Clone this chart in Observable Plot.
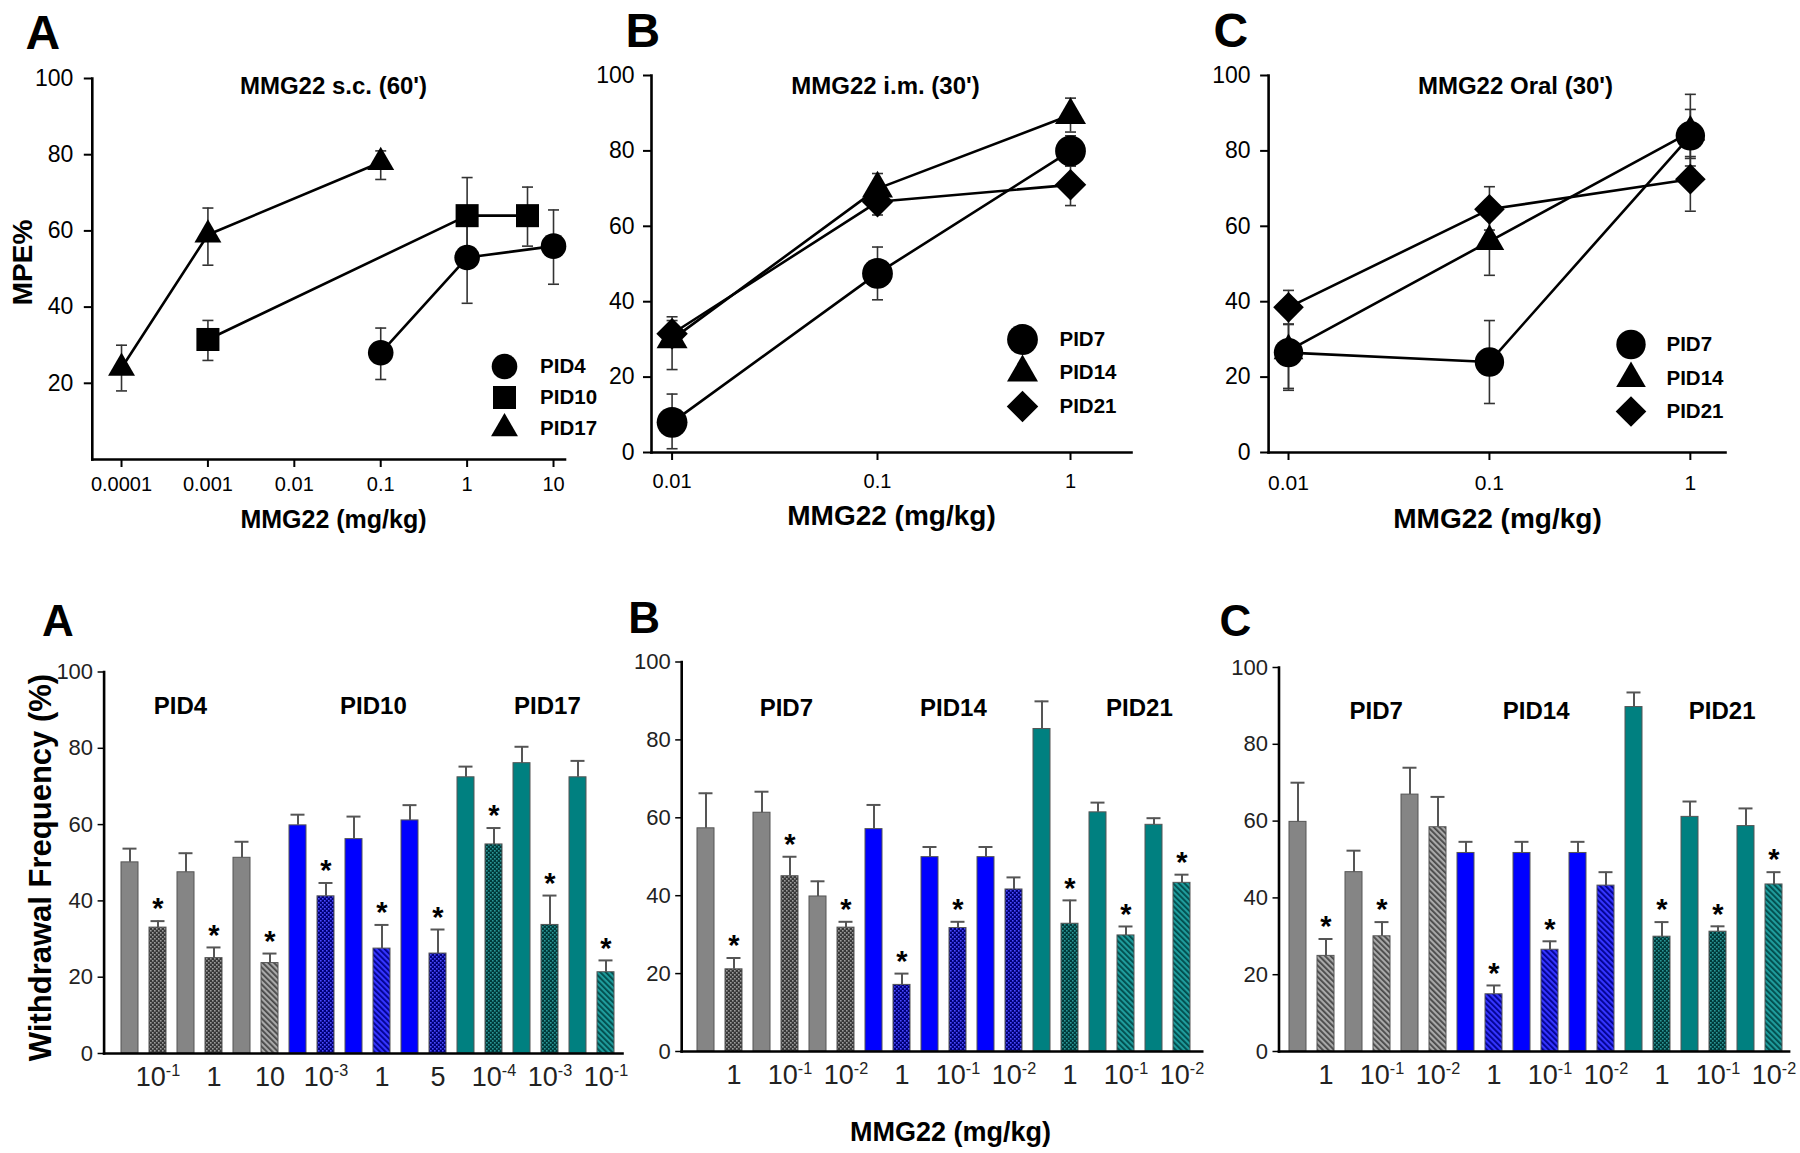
<!DOCTYPE html>
<html><head><meta charset="utf-8">
<script src="https://cdn.jsdelivr.net/npm/d3@7"></script>
<script src="https://cdn.jsdelivr.net/npm/@observablehq/plot@0.6"></script>
<style>
html,body{margin:0;padding:0;background:#fff;}
#chart{position:relative;width:1800px;height:1153px;overflow:hidden;background:#fff;}
</style></head><body>
<svg width="0" height="0" style="position:absolute;left:0;top:0">
<defs>
 <pattern id="grey-cross" width="4" height="4" patternUnits="userSpaceOnUse">
  <rect width="4" height="4" fill="#383838"/>
  <rect x="0" y="0" width="1.6" height="1.6" fill="#9c9c9c"/>
  <rect x="2" y="2" width="1.6" height="1.6" fill="#9c9c9c"/>
 </pattern>
 <pattern id="grey-diag" width="4" height="4" patternUnits="userSpaceOnUse" patternTransform="rotate(-45)">
  <rect width="4" height="4" fill="#a9a9a9"/>
  <rect width="1.8" height="4" fill="#474747"/>
 </pattern>
 <pattern id="blue-cross" width="4" height="4" patternUnits="userSpaceOnUse">
  <rect width="4" height="4" fill="#000078"/>
  <rect x="0" y="0" width="1.6" height="1.6" fill="#4a4aff"/>
  <rect x="2" y="2" width="1.6" height="1.6" fill="#4a4aff"/>
 </pattern>
 <pattern id="blue-diag" width="4" height="4" patternUnits="userSpaceOnUse" patternTransform="rotate(-45)">
  <rect width="4" height="4" fill="#3535ff"/>
  <rect width="1.8" height="4" fill="#00008c"/>
 </pattern>
 <pattern id="teal-cross" width="4" height="4" patternUnits="userSpaceOnUse">
  <rect width="4" height="4" fill="#003a3a"/>
  <rect x="0" y="0" width="1.6" height="1.6" fill="#2a9696"/>
  <rect x="2" y="2" width="1.6" height="1.6" fill="#2a9696"/>
 </pattern>
 <pattern id="teal-diag" width="4" height="4" patternUnits="userSpaceOnUse" patternTransform="rotate(-45)">
  <rect width="4" height="4" fill="#1f9c9c"/>
  <rect width="1.8" height="4" fill="#004a4a"/>
 </pattern>
</defs>
</svg>
<div id="chart"></div>
<script>
// ---------------- DATA ----------------
// Top row: MPE% vs dose (log scale)
const topA_series = ["PID4", "PID10", "PID17"];
const topA_doses  = [[0.1, 1, 10], [0.001, 1, 5], [0.0001, 0.001, 0.1]];
const topA_mpe    = [[28, 53, 56], [31.5, 64, 64], [24, 59, 78]];
const topA_low    = [[21, 41, 46], [26, 54.5, 56], [18, 51, 73.5]];
const topA_high   = [[34.5, 65, 65.5], [36.5, 74, 71.5], [30, 66, 81]];

const topB_series = ["PID7", "PID14", "PID21"];
const topB_doses  = [[0.01, 0.1, 1], [0.01, 0.1, 1], [0.01, 0.1, 1]];
const topB_mpe    = [[8, 47.5, 80], [30, 70, 89.5], [31.5, 66.5, 71]];
const topB_low    = [[1, 40.5, 76], [22, 66, 85], [28, 63, 65.5]];
const topB_high   = [[15.5, 54.5, 84], [36, 74, 94], [35, 70, 76]];

const topC_series = ["PID7", "PID14", "PID21"];
const topC_doses  = [[0.01, 0.1, 1], [0.01, 0.1, 1], [0.01, 0.1, 1]];
const topC_mpe    = [[26.5, 24, 84], [27, 56, 85], [38.5, 64.5, 72.5]];
const topC_low    = [[17, 13, 78], [16.5, 47, 76], [34, 59, 64]];
const topC_high   = [[34, 35, 91], [34, 65, 95], [43, 70.5, 78.5]];

const topA_ticks = [0.0001, 0.001, 0.01, 0.1, 1, 10];
const topBC_ticks = [0.01, 0.1, 1];

// Bottom row: withdrawal frequency bars (baseline / treated pairs)
const botA_groups = ["PID4", "PID10", "PID17"];
const botA_mean = [50.1, 33, 47.5, 25, 51.3, 23.7, 59.8, 41.2, 56.2, 27.5, 61.1, 26.2, 72.4, 54.8, 76.1, 33.7, 72.4, 21.3];
const botA_err  = [53.7, 34.7, 52.5, 27.8, 55.5, 26.2, 62.6, 44.7, 62.1, 33.7, 65.1, 32.5, 75.2, 59.1, 80.4, 41.4, 76.7, 24.4];
const botA_star = [0, 1, 0, 1, 0, 1, 0, 1, 0, 1, 0, 1, 0, 1, 0, 1, 0, 1];
const botA_dose = ["", "10^-1", "", "1", "", "10", "", "10^-3", "", "1", "", "5", "", "10^-4", "", "10^-3", "", "10^-1"];
const botA_kind = ["base", "cross", "base", "cross", "base", "diag", "base", "cross", "base", "diag", "base", "cross", "base", "cross", "base", "cross", "base", "diag"];

const botB_groups = ["PID7", "PID14", "PID21"];
const botB_mean = [57.3, 21.1, 61.3, 45, 39.8, 31.8, 57.1, 17.1, 49.9, 31.7, 49.9, 41.6, 82.8, 32.8, 61.4, 29.8, 58.2, 43.3];
const botB_err  = [66.3, 24, 66.7, 50, 43.7, 33.3, 63.3, 20, 52.5, 33.3, 52.5, 44.7, 89.9, 38.8, 63.9, 32.1, 59.9, 45.4];
const botB_star = [0, 1, 0, 1, 0, 1, 0, 1, 0, 1, 0, 0, 0, 1, 0, 1, 0, 1];
const botB_dose = ["", "1", "", "10^-1", "", "10^-2", "", "1", "", "10^-1", "", "10^-2", "", "1", "", "10^-1", "", "10^-2"];
const botB_kind = ["base", "cross", "base", "cross", "base", "cross", "base", "cross", "base", "cross", "base", "cross", "base", "cross", "base", "diag", "base", "diag"];

const botC_groups = ["PID7", "PID14", "PID21"];
const botC_mean = [59.8, 24.9, 46.7, 30, 66.9, 58.4, 51.7, 14.9, 51.7, 26.5, 51.7, 43.2, 89.7, 29.9, 61.1, 31.2, 58.7, 43.5];
const botC_err  = [70, 29.3, 52.3, 33.7, 73.9, 66.3, 54.6, 17.2, 54.6, 28.7, 54.6, 46.7, 93.5, 33.7, 65.1, 32.6, 63.3, 46.7];
const botC_star = [0, 1, 0, 1, 0, 0, 0, 1, 0, 1, 0, 0, 0, 1, 0, 1, 0, 1];
const botC_dose = ["", "1", "", "10^-1", "", "10^-2", "", "1", "", "10^-1", "", "10^-2", "", "1", "", "10^-1", "", "10^-2"];
const botC_kind = ["base", "diag", "base", "diag", "base", "diag", "base", "diag", "base", "diag", "base", "diag", "base", "cross", "base", "cross", "base", "diag"];

// ---------------- STYLE / LAYOUT ----------------
const W = 1800, H = 1153;
const FONT = "'Liberation Sans', Arial, Helvetica, sans-serif";
const symbolOf = {PID4: "circle", PID10: "square", PID17: "triangle", PID7: "circle", PID14: "triangle", PID21: "diamond2"};
const hues = ["grey", "blue", "teal"];
const solidOf = {grey: "#858585", blue: "#0000ff", teal: "#008080"};
const capSymbol = {draw(context, size) { const w = Math.sqrt(size / Math.PI); context.moveTo(-w, 0); context.lineTo(w, 0); }};

const chart = document.getElementById("chart");

function at(f, px, py) { return {frameAnchor: "top-left", dx: px - f.L, dy: py - f.T}; }
function label(f, txt, px, py, o) {
  return Plot.text([txt], {...at(f, px, py), text: d => d, fontWeight: "bold", textAnchor: "middle", lineAnchor: "middle", ...o});
}
function mount(svg) {
  svg.style.position = "absolute"; svg.style.left = "0"; svg.style.top = "0";
  svg.style.background = "transparent"; svg.style.overflow = "visible";
  svg.setAttribute("font-family", FONT); svg.style.fontFamily = FONT;
  chart.appendChild(svg);
}

function linePanel(cfg) {
  const f = cfg.frame;
  const rows = [];
  cfg.series.forEach((s, k) => cfg.doses[k].forEach((x, j) =>
    rows.push({series: s, dose: x, mpe: cfg.mpe[k][j], lo: cfg.low[k][j], hi: cfg.high[k][j]})));
  const marks = [
    Plot.axisY({ticks: cfg.yTicks, tickFormat: d => String(d), tickSize: 8, tickPadding: cfg.yPad, fontSize: 23, strokeWidth: 2, label: null}),
    Plot.axisX({ticks: cfg.xTicks, tickFormat: d => String(d), tickSize: 8, tickPadding: cfg.xPad, fontSize: cfg.xFont, strokeWidth: 2, label: null}),
    Plot.frame({anchor: "left", stroke: "#000", strokeWidth: 2.6}),
    Plot.frame({anchor: "bottom", stroke: "#000", strokeWidth: 2.6}),
    Plot.ruleX(rows, {x: "dose", y1: "lo", y2: "hi", stroke: "#333", strokeWidth: 1.6}),
    Plot.dot(rows, {x: "dose", y: "lo", symbol: capSymbol, r: 5.5, stroke: "#333", strokeWidth: 1.6, fill: "none"}),
    Plot.dot(rows, {x: "dose", y: "hi", symbol: capSymbol, r: 5.5, stroke: "#333", strokeWidth: 1.6, fill: "none"}),
    Plot.line(rows, {x: "dose", y: "mpe", z: "series", stroke: "#000", strokeWidth: 2.6}),
    ...cfg.series.map(s => Plot.dot(rows.filter(d => d.series === s), {x: "dose", y: "mpe", symbol: symbolOf[s], r: cfg.r[symbolOf[s]], fill: "#000", stroke: "none"})),
    ...cfg.series.map((s, k) => Plot.dot([s], {...at(f, cfg.legend.mx, cfg.legend.rows[k]), symbol: symbolOf[s], r: cfg.r[symbolOf[s]], fill: "#000", stroke: "none"})),
    ...cfg.series.map((s, k) => Plot.text([s], {...at(f, cfg.legend.lx, cfg.legend.rows[k]), text: d => d, textAnchor: "start", lineAnchor: "middle", fontSize: 20.5, fontWeight: "bold"})),
    label(f, cfg.title, cfg.titlePos[0], cfg.titlePos[1], {fontSize: 24}),
    label(f, "MMG22 (mg/kg)", cfg.xLabelPos[0], cfg.xLabelPos[1], {fontSize: cfg.xLabelFont}),
    label(f, cfg.letter, cfg.letterPos[0], cfg.letterPos[1], {fontSize: 48, textAnchor: "start", lineAnchor: "top"})
  ];
  if (cfg.yLabel) marks.push(label(f, cfg.yLabel, cfg.yLabelPos[0], cfg.yLabelPos[1], {fontSize: 28, rotate: -90}));
  const xScale = {type: "log", domain: cfg.xDomain, label: null};
  if (cfg.xRange) xScale.range = cfg.xRange;
  const svg = Plot.plot({
    width: W, height: H,
    marginLeft: f.L, marginRight: W - f.R, marginTop: f.T, marginBottom: H - f.B,
    x: xScale,
    y: {domain: [0, 100], label: null},
    marks
  });
  mount(svg);
}

function barPanel(cfg) {
  const f = cfg.frame;
  const rows = cfg.mean.map((m, i) => ({
    i, mean: m, err: cfg.err[i], star: cfg.star[i], kind: cfg.kind[i], hue: hues[Math.floor(i / 6)]
  }));
  const step = (cfg.xRange[1] - cfg.xRange[0]) / rows.length;
  const fillOf = d => d.kind === "base" ? solidOf[d.hue] : `url(#${d.hue}-${d.kind})`;
  const marks = [
    Plot.barY(rows, {x: "i", y: "mean", fill: fillOf, stroke: "#555", strokeWidth: 1}),
    Plot.ruleX(rows, {x: "i", y1: "mean", y2: "err", stroke: "#555", strokeWidth: 2}),
    Plot.tickY(rows, {x: "i", y: "err", stroke: "#555", strokeWidth: 2, insetLeft: 1.5, insetRight: 1.5}),
    Plot.text(rows.filter(d => d.star), {x: "i", y: "err", text: () => "*", dy: -12, fontSize: 29, fontWeight: "bold"}),
    ...cfg.groups.map((g, k) => Plot.text([g], {x: () => k * 6 + 2, frameAnchor: "top", lineAnchor: "middle",
      dx: step / 2 + cfg.groupShift[k], dy: cfg.groupY - f.T, text: d => d, fontSize: 24, fontWeight: "bold"})),
    Plot.axisY({ticks: [0, 20, 40, 60, 80, 100], tickFormat: d => String(d), tickSize: 6, tickPadding: 5, fontSize: 22, strokeWidth: 1.5, label: null, fill: "#222"}),
    Plot.axisX({tickSize: 0, tickPadding: 13, fontSize: 27, tickFormat: i => cfg.dose[i], label: null, fill: "#222"}),
    Plot.frame({anchor: "left", stroke: "#000", strokeWidth: 2.6}),
    Plot.frame({anchor: "bottom", stroke: "#000", strokeWidth: 2.6}),
    label(f, cfg.letter, cfg.letterPos[0], cfg.letterPos[1], {fontSize: 44, textAnchor: "start", lineAnchor: "top"})
  ];
  if (cfg.yLabel) marks.push(label(f, cfg.yLabel, cfg.yLabelPos[0], cfg.yLabelPos[1], {fontSize: 31, rotate: -90}));
  if (cfg.xLabel) marks.push(label(f, cfg.xLabel, cfg.xLabelPos[0], cfg.xLabelPos[1], {fontSize: 27}));
  const svg = Plot.plot({
    width: W, height: H,
    marginLeft: f.L, marginRight: W - f.R, marginTop: f.T, marginBottom: H - f.B,
    x: {type: "band", domain: d3.range(rows.length), range: cfg.xRange, paddingInner: cfg.pad, paddingOuter: cfg.pad / 2, label: null},
    y: {domain: [0, 100], label: null},
    color: {type: "identity"},
    marks
  });
  // superscript exponents in dose tick labels
  d3.select(svg).selectAll('g[aria-label="x-axis tick label"] text').each(function () {
    const t = this.textContent;
    if (t.includes("^")) {
      const [b, e] = t.split("^");
      this.textContent = "";
      d3.select(this).append("tspan").text(b);
      d3.select(this).append("tspan").attr("dy", "-0.6em").attr("font-size", "0.6em").text(e);
    }
  });
  mount(svg);
}

linePanel({
  frame: {L: 91.8, R: 564.5, T: 78, B: 459},
  series: topA_series, doses: topA_doses, mpe: topA_mpe, low: topA_low, high: topA_high,
  xDomain: [4.59e-5, 13.58], xTicks: topA_ticks, yTicks: [20, 40, 60, 80, 100],
  yPad: 11, xPad: 9, xFont: 20,
  r: {circle: 12.8, square: 13, triangle: 10},
  legend: {mx: 504, lx: 539.6, rows: [366, 397, 428]},
  title: "MMG22 s.c. (60')", titlePos: [333, 86],
  xLabelPos: [333, 519], xLabelFont: 25,
  yLabel: "MPE%", yLabelPos: [23, 262],
  letter: "A", letterPos: [25, 14]
});
linePanel({
  frame: {L: 651, R: 1131, T: 75, B: 452},
  series: topB_series, doses: topB_doses, mpe: topB_mpe, low: topB_low, high: topB_high,
  xDomain: [0.00794, 0.1, 2.07], xRange: [651, 877, 1131], xTicks: topBC_ticks, yTicks: [0, 20, 40, 60, 80, 100],
  yPad: 9, xPad: 13, xFont: 20,
  r: {circle: 15.4, triangle: 11.5, diamond2: 14.2},
  legend: {mx: 1022, lx: 1059, rows: [339, 372, 406]},
  title: "MMG22 i.m. (30')", titlePos: [885, 86],
  xLabelPos: [891, 516], xLabelFont: 28,
  letter: "B", letterPos: [625, 12]
});
linePanel({
  frame: {L: 1268.1, R: 1725, T: 75, B: 452},
  series: topC_series, doses: topC_doses, mpe: topC_mpe, low: topC_low, high: topC_high,
  xDomain: [0.00796, 1.496], xTicks: topBC_ticks, yTicks: [0, 20, 40, 60, 80, 100],
  yPad: 10, xPad: 15, xFont: 21,
  r: {circle: 14.7, triangle: 11, diamond2: 13.8},
  legend: {mx: 1630.5, lx: 1666, rows: [344, 378, 411]},
  title: "MMG22 Oral (30')", titlePos: [1515, 86],
  xLabelPos: [1497, 519], xLabelFont: 28,
  letter: "C", letterPos: [1213, 12]
});

barPanel({
  frame: {L: 103.6, R: 622, T: 671.5, B: 1053}, xRange: [108.6, 626.2], pad: 0.4,
  groups: botA_groups, mean: botA_mean, err: botA_err, star: botA_star, dose: botA_dose, kind: botA_kind,
  groupY: 706, groupShift: [-20, 5, 11],
  letter: "A", letterPos: [41.5, 604],
  yLabel: "Withdrawal Frequency (%)", yLabelPos: [40.5, 867]
});
barPanel({
  frame: {L: 681.2, R: 1201.7, T: 661.5, B: 1051}, xRange: [685, 1202.3], pad: 0.39,
  groups: botB_groups, mean: botB_mean, err: botB_err, star: botB_star, dose: botB_dose, kind: botB_kind,
  groupY: 708, groupShift: [10, 9, 27],
  letter: "B", letterPos: [627.7, 601],
  xLabel: "MMG22 (mg/kg)", xLabelPos: [950, 1131.6]
});
barPanel({
  frame: {L: 1278.5, R: 1788.6, T: 667, B: 1051}, xRange: [1280.5, 1791.1], pad: 0.39,
  groups: botC_groups, mean: botC_mean, err: botC_err, star: botC_star, dose: botC_dose, kind: botC_kind,
  groupY: 711, groupShift: [8, 0, 18],
  letter: "C", letterPos: [1219, 604]
});
</script>
</body></html>
